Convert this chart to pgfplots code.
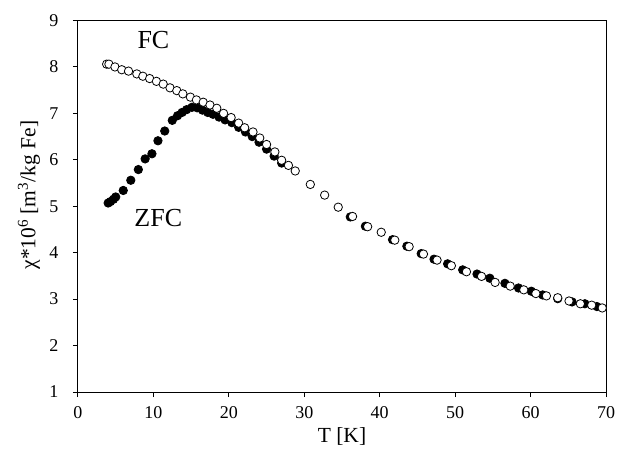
\documentclass[border=0pt]{standalone}
\usepackage{fontspec}
\setmainfont{Liberation Serif}
\usepackage{pgfplots}
\pgfplotsset{compat=1.18}
\begin{document}
\begin{tikzpicture}
\path[use as bounding box] (-78bp,-63bp) rectangle (540bp,392bp);
\begin{axis}[
  at={(0,0)}, anchor=south west,
  scale only axis, width=528bp, height=371.5bp,
  xmin=0, xmax=70, ymin=1, ymax=9,
  xtick={0,10,...,70}, ytick={1,2,...,9},
  xtick pos=left, ytick pos=left,
  tick align=outside, major tick length=5bp,
  axis line style={line width=1bp}, every tick/.style={line width=1bp,black},
  /pgf/number format/assume math mode=true,
  tick label style={font=\fontsize{18bp}{21bp}\selectfont},
  xticklabel style={yshift=-6bp},
  yticklabel style={xshift=-11bp},
  xlabel={T [K]}, ylabel={χ*10\textsuperscript{6} [m\textsuperscript{3}/kg Fe]},
  label style={font=\fontsize{21.5bp}{24bp}\selectfont},
  xlabel style={at={(axis description cs:0.5,0)}, anchor=center, yshift=-44bp},
  ylabel style={at={(axis description cs:0,0.53)}, anchor=center, yshift=49bp},
  clip=false,
]
\addplot[only marks, mark=*, mark size=4.2bp, mark options={draw=black, fill=black, line width=0.8bp}] coordinates {
(4.0,5.07) (4.3,5.10) (4.7,5.15) (5.0,5.20) (6.0,5.34) (7.0,5.56) (8.0,5.79) (8.9,6.02)
(9.8,6.13) (10.6,6.41) (11.5,6.62) (12.5,6.85) (13.2,6.95) (13.8,7.02) (14.4,7.08)
(15.1,7.13) (15.8,7.12) (16.5,7.07) (17.2,7.02) (17.9,6.98) (18.7,6.92)
(19.5,6.86) (20.4,6.80) (21.3,6.70) (22.2,6.60) (23.1,6.50) (24.0,6.38) (25.0,6.23)
(26.0,6.08) (27.0,5.93)
(36.1,4.77) (38.1,4.57) (41.7,4.28) (43.6,4.14) (45.5,3.98) (47.2,3.86) (49.0,3.76)
(51.0,3.63) (52.9,3.54) (54.6,3.45) (56.6,3.34) (58.4,3.24) (60.1,3.17) (61.6,3.09)
(63.6,3.01) (65.5,2.94) (67.2,2.90) (68.8,2.84)
};
\addplot[only marks, mark=*, mark size=4.2bp, mark options={draw=black, fill=white, line width=0.8bp}] coordinates {
(3.8,8.06) (4.1,8.06) (4.9,8.00) (5.8,7.94) (6.7,7.91) (7.8,7.85) (8.6,7.80) (9.5,7.75)
(10.4,7.69) (11.3,7.63) (12.2,7.55) (13.1,7.49) (13.9,7.42) (14.9,7.35) (15.7,7.29)
(16.6,7.24) (17.5,7.18) (18.4,7.11) (19.3,7.00) (20.3,6.91) (21.3,6.79) (22.1,6.69)
(23.2,6.60) (24.1,6.47) (25.0,6.33) (26.1,6.17) (27.0,5.99) (27.9,5.88) (28.8,5.76)
(30.8,5.47) (32.7,5.24) (34.5,4.98) (36.4,4.78) (38.4,4.56) (40.2,4.44) (42.0,4.27)
(43.9,4.13) (45.8,3.97) (47.6,3.84) (49.5,3.72) (51.5,3.59) (53.5,3.49) (55.3,3.36)
(57.3,3.28) (59.1,3.20) (60.7,3.12) (62.1,3.07) (63.6,3.03) (65.1,2.96) (66.6,2.90)
(68.1,2.87) (69.5,2.81)
};
\node[font=\fontsize{26bp}{28bp}\selectfont] at (axis cs:10.0,8.57) {FC};
\node[font=\fontsize{26bp}{28bp}\selectfont] at (axis cs:10.65,4.74) {ZFC};
\end{axis}
\end{tikzpicture}
\end{document}
